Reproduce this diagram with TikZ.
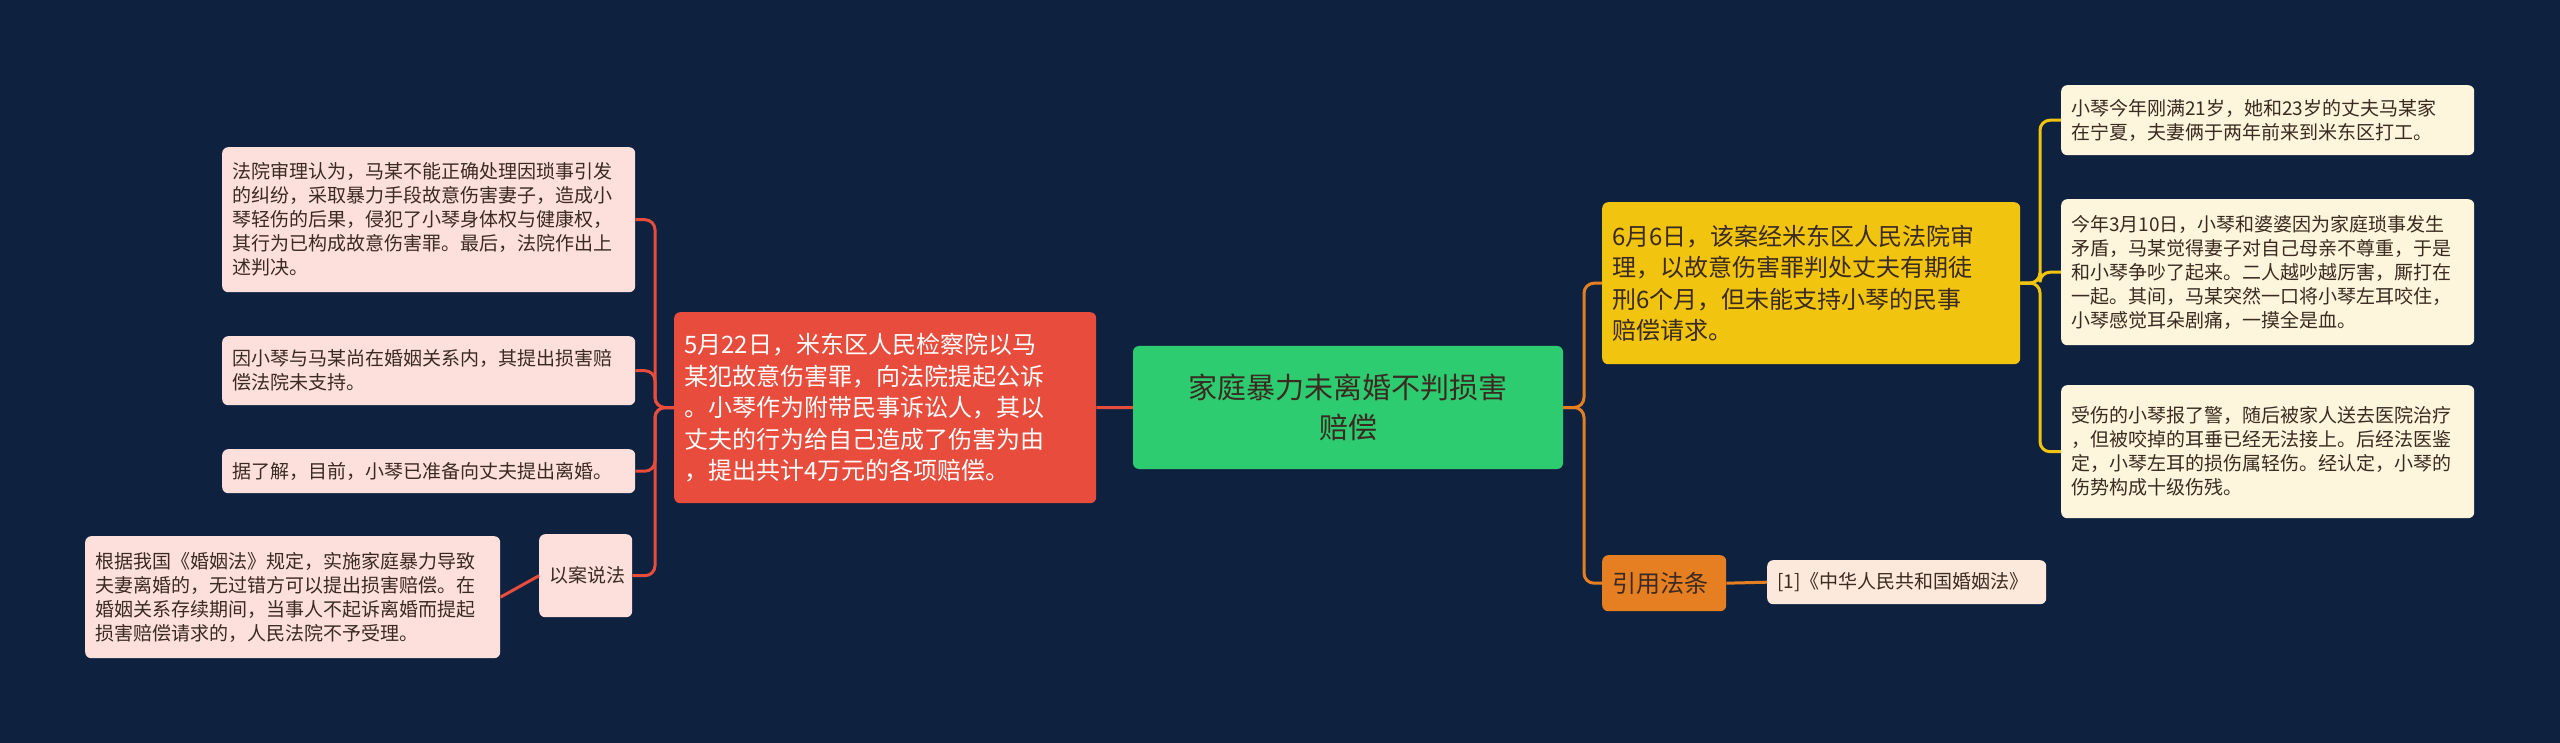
\documentclass[tikz,border=0pt]{standalone}
\usepackage{fontspec}
\setmainfont{Noto Sans CJK SC}
\definecolor{bg}{HTML}{0E2240}
\definecolor{cgreen}{HTML}{2ECC71}
\definecolor{cred}{HTML}{E74C3C}
\definecolor{cyel}{HTML}{F1C40F}
\definecolor{corg}{HTML}{E67E22}
\definecolor{cpink}{HTML}{FDE0DC}
\definecolor{ccream}{HTML}{FDF6DC}
\definecolor{claw}{HTML}{FCE9DC}
\definecolor{tdark}{HTML}{3A2A20}
\tikzset{
  box/.style={rounded corners=6pt, inner xsep=10pt, inner ysep=0pt, align=left, anchor=north west},
  leaf/.style={box, font=\fontsize{19}{24}\selectfont, text=tdark},
  big/.style={box, font=\fontsize{24}{31.5}\selectfont, text=white},
  link/.style={line width=3pt, rounded corners=10pt},
}
\newcommand{\bx}[6]{% name, style, x1,y1,x2,y2, text via next
  \node[#2, minimum width={#5-#3}, minimum height={#6-#4}, text width={#5-#3-20}] (#1) at (#3,#4) }
\begin{document}
\begin{tikzpicture}[x=1pt,y=-1pt]
\fill[bg] (0,0) rectangle (2560,743);
\useasboundingbox (0,0) rectangle (2560,743);
% center
\node[rounded corners=6pt, fill=cgreen, minimum width=430, minimum height=123, align=center, font=\fontsize{29}{40}\selectfont, text=tdark] (root) at (1348,407.5) {家庭暴力未离婚不判损害\\赔偿};
% red
\bx{red}{big, fill=cred}{674}{312}{1096}{503}{5月22日，米东区人民检察院以马\\某犯故意伤害罪，向法院提起公诉\\。小琴作为附带民事诉讼人，其以\\丈夫的行为给自己造成了伤害为由\\，提出共计4万元的各项赔偿。};
\bx{l1}{leaf, fill=cpink}{222}{147}{635}{292}{法院审理认为，马某不能正确处理因琐事引发\\的纠纷，采取暴力手段故意伤害妻子，造成小\\琴轻伤的后果，侵犯了小琴身体权与健康权，\\其行为已构成故意伤害罪。最后，法院作出上\\述判决。};
\bx{l2}{leaf, fill=cpink}{222}{336}{635}{405}{因小琴与马某尚在婚姻关系内，其提出损害赔\\偿法院未支持。};
\bx{l3}{leaf, fill=cpink}{222}{449}{635}{493}{据了解，目前，小琴已准备向丈夫提出离婚。};
\bx{case}{leaf, fill=cpink, inner xsep=8pt}{539}{534}{632}{617}{以案说法};
\bx{l4}{leaf, fill=cpink}{85}{536}{500}{658}{根据我国《婚姻法》规定，实施家庭暴力导致\\夫妻离婚的，无过错方可以提出损害赔偿。在\\婚姻关系存续期间，当事人不起诉离婚而提起\\损害赔偿请求的，人民法院不予受理。};
% right
\bx{yel}{big, fill=cyel, text=tdark}{1602}{202}{2020}{364}{6月6日，该案经米东区人民法院审\\理，以故意伤害罪判处丈夫有期徒\\刑6个月，但未能支持小琴的民事\\赔偿请求。};
\bx{cite}{big, fill=corg, text=tdark}{1602}{555}{1726}{611}{引用法条};
\bx{law}{leaf, fill=claw}{1767}{560}{2046}{604}{[1]《中华人民共和国婚姻法》};
\bx{r1}{leaf, fill=ccream}{2061}{85}{2474}{155}{小琴今年刚满21岁，她和23岁的丈夫马某家\\在宁夏，夫妻俩于两年前来到米东区打工。};
\bx{r2}{leaf, fill=ccream}{2061}{199}{2474}{345}{今年3月10日，小琴和婆婆因为家庭琐事发生\\矛盾，马某觉得妻子对自己母亲不尊重，于是\\和小琴争吵了起来。二人越吵越厉害，厮打在\\一起。其间，马某突然一口将小琴左耳咬住，\\小琴感觉耳朵剧痛，一摸全是血。};
\bx{r3}{leaf, fill=ccream}{2061}{385}{2474}{518}{受伤的小琴报了警，随后被家人送去医院治疗\\，但被咬掉的耳垂已经无法接上。后经法医鉴\\定，小琴左耳的损伤属轻伤。经认定，小琴的\\伤势构成十级伤残。};
% connectors
\draw[link, cred] (root.west) -- (red.east);
\foreach \c in {l1,l2,l3,case} \draw[link, cred] (red.west) -- (655,407.5) |- (\c.east);
\draw[link, cred] (case.west) -- (l4.east);
\draw[link, corg] (root.east) -- (1584,407.5) |- (yel.west);
\draw[link, corg] (root.east) -- (1584,407.5) |- (cite.west);
\draw[link, corg] (cite.east) -- (law.west);
\foreach \c in {r1,r2,r3} \draw[link, cyel] (yel.east) -- (2040,283) |- (\c.west);
\end{tikzpicture}
\end{document}
